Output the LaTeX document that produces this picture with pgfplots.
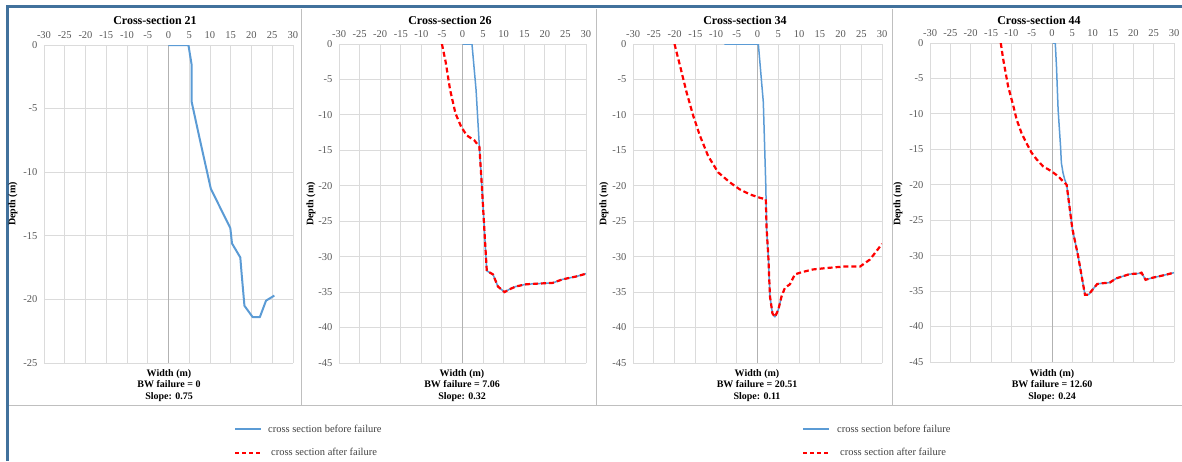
\documentclass[border=0pt]{standalone}
\usepackage{fontspec}
\setmainfont{Liberation Serif}
\usepackage{pgfplots}
\pgfplotsset{compat=1.18}
\definecolor{bluel}{RGB}{91,155,213}
\definecolor{framec}{RGB}{65,113,156}
\definecolor{sepc}{RGB}{191,191,191}
\definecolor{txt}{RGB}{64,64,64}
\pgfplotsset{
  panel/.style={
    scale only axis,
    xmin=-30, xmax=30, xtick distance=5,
    ymax=0, ytick distance=5,
    xticklabel pos=right,
    grid=major, grid style={draw=black!14, line width=0.9pt},
    axis line style={draw=none},
    major tick length=0pt,
    tick label style={font=\fontsize{10.5}{12}\selectfont, text=black!65},
    xticklabel style={yshift=3pt},
    yticklabel style={xshift=-3pt},
    /pgf/number format/assume math mode=true,
    extra x ticks={0}, extra x tick labels={},
    extra x tick style={grid style={draw=black!30, line width=0.9pt}},
  },
  bl/.style={color=bluel, line width=1.5pt, line join=round},
  rd/.style={color=red, line width=2.2pt, dash pattern=on 5pt off 3pt},
}
\begin{document}
\begin{tikzpicture}[x=1pt,y=1pt]
\useasboundingbox (0,0) rectangle (1182,461);
% frame and separators
\draw[sepc, line width=1pt] (8,56) -- (1182,56);
\foreach \xx in {301,596,892} \draw[sepc, line width=1pt] (\xx,452) -- (\xx,56);
\draw[framec, line width=3pt] (7,0) -- (7,454.5) -- (1182,454.5);

% ---------- Panel 1 ----------
\begin{axis}[panel, width=249pt, height=318pt, at={(44pt,98pt)}, anchor=south west, ymin=-25]
\addplot[bl, line width=2pt] coordinates {(0,0) (4.8,0) (5.6,-1.6) (5.6,-4.5) (7.6,-7.5) (10.2,-11.3) (14.9,-14.4) (15.3,-15.6) (17.3,-16.7) (17.6,-17.9) (18.3,-20.5) (20.3,-21.4) (22,-21.4) (23.5,-20.1) (25.5,-19.7)};
\end{axis}
\node[font=\fontsize{12}{14}\bfseries\selectfont] at (155,441) {Cross-section 21};
\node[rotate=90, font=\fontsize{10}{12}\bfseries\selectfont] at (13,257) {Depth (m)};
\node[align=center, font=\fontsize{10}{11.3}\bfseries\selectfont, anchor=north] at (169,95) {Width (m)\\BW failure = 0\\Slope: 0.75};

% ---------- Panel 2 ----------
\begin{axis}[panel, width=247pt, height=319pt, at={(339pt,98pt)}, anchor=south west, ymin=-45]
\addplot[bl] coordinates {(0,0) (2.3,0) (3.3,-6.5) (4.1,-14.5) (4.7,-20) (5.3,-26.1) (5.9,-32.0) (7.4,-32.5) (8.6,-34.2) (10.2,-35) (11.4,-34.6) (13,-34.2) (15.4,-33.9) (18.3,-33.8) (21.9,-33.7) (24.3,-33.2) (27.6,-32.8) (30,-32.4)};
\addplot[rd] coordinates {(-5,0) (-4.1,-2.5) (-3,-6.5) (-1.7,-9.8) (-0.3,-11.7) (1.05,-12.9) (2.9,-13.6) (4.1,-14.5) (4.7,-20) (5.3,-26.1) (5.9,-32.0) (7.4,-32.5) (8.6,-34.2) (10.2,-35) (11.4,-34.6) (13,-34.2) (15.4,-33.9) (18.3,-33.8) (21.9,-33.7) (24.3,-33.2) (27.6,-32.8) (30,-32.4)};
\end{axis}
\node[font=\fontsize{12}{14}\bfseries\selectfont] at (450,441) {Cross-section 26};
\node[rotate=90, font=\fontsize{10}{12}\bfseries\selectfont] at (311,257) {Depth (m)};
\node[align=center, font=\fontsize{10}{11.3}\bfseries\selectfont, anchor=north] at (462,95) {Width (m)\\BW failure = 7.06\\Slope: 0.32};

% ---------- Panel 3 ----------
\begin{axis}[panel, width=249pt, height=319pt, at={(633pt,98pt)}, anchor=south west, ymin=-45]
\addplot[bl] coordinates {(-8,0) (0.2,0) (1.4,-8.2) (2,-20) (2.2,-26.1) (2.6,-29.9) (3,-35.6) (3.6,-38) (4.2,-38.5) (5,-37.5) (5.8,-35.6)};
\addplot[rd] coordinates {(-20,0) (-18.7,-3) (-17.1,-6.8) (-15.5,-10.1) (-13.9,-12.9) (-11.9,-15.8) (-9.5,-18.1) (-6.7,-19.5) (-4.3,-20.5) (-1.9,-21.2) (0.6,-21.7) (2,-21.9) (2.2,-26.1) (2.6,-29.9) (3,-35.6) (3.6,-38) (4.2,-38.5) (5,-37.5) (5.8,-35.6) (6.6,-34.4) (7.8,-33.9) (9,-32.5) (10.6,-32.2) (13.4,-31.8) (16.7,-31.6) (20.7,-31.4) (24.7,-31.4) (27.1,-30.4) (30,-28.2)};
\end{axis}
\node[font=\fontsize{12}{14}\bfseries\selectfont] at (745,441) {Cross-section 34};
\node[rotate=90, font=\fontsize{10}{12}\bfseries\selectfont] at (604,257) {Depth (m)};
\node[align=center, font=\fontsize{10}{11.3}\bfseries\selectfont, anchor=north] at (757,95) {Width (m)\\BW failure = 20.51\\Slope: 0.11};

% ---------- Panel 4 ----------
\begin{axis}[panel, width=244pt, height=319pt, at={(930pt,99pt)}, anchor=south west, ymin=-45]
\addplot[bl] coordinates {(0.3,0) (0.8,0) (1.1,-3.3) (1.5,-9.4) (2.1,-14.6) (2.3,-16.9) (2.7,-18.3) (3.1,-19.2) (3.6,-20) (5,-26.2) (6.4,-30) (8.1,-35.5) (9,-35.5) (10.1,-34.7) (11.1,-34) (12.2,-33.9) (14.2,-33.8) (15.8,-33.2) (19.1,-32.6) (21.5,-32.5) (22,-32.4) (23,-33.4) (24.8,-33.1) (27.2,-32.8) (30,-32.4)};
\addplot[rd] coordinates {(-12.6,0) (-12,-2.3) (-10.8,-6.1) (-9.5,-8.9) (-8.7,-10.8) (-7.5,-12.7) (-6.3,-14.1) (-5,-15.5) (-3.8,-16.4) (-2.2,-17.4) (-0.1,-18.1) (1.5,-18.8) (2.7,-19.5) (3.6,-20) (5,-26.2) (6.4,-30) (8.1,-35.5) (9,-35.5) (10.1,-34.7) (11.1,-34) (12.2,-33.9) (14.2,-33.8) (15.8,-33.2) (19.1,-32.6) (21.5,-32.5) (22,-32.4) (23,-33.4) (24.8,-33.1) (27.2,-32.8) (30,-32.4)};
\end{axis}
\node[font=\fontsize{12}{14}\bfseries\selectfont] at (1039,441) {Cross-section 44};
\node[rotate=90, font=\fontsize{10}{12}\bfseries\selectfont] at (898,257) {Depth (m)};
\node[align=center, font=\fontsize{10}{11.3}\bfseries\selectfont, anchor=north] at (1052,95) {Width (m)\\BW failure = 12.60\\Slope: 0.24};

% ---------- Legends ----------
\foreach \lx/\tx in {235/268, 803/837} {
  \draw[bluel, line width=2pt] (\lx,32) -- (\lx+26,32);
  \node[anchor=west, inner sep=0pt, text=txt, font=\fontsize{10.5}{12}\selectfont] at (\tx,32) {cross section before failure};
  \draw[red, line width=2pt, dash pattern=on 4pt off 3pt] (\lx,8.5) -- (\lx+26,8.5);
  \node[anchor=west, inner sep=0pt, text=txt, font=\fontsize{10.5}{12}\selectfont] at (\tx+3,9) {cross section after failure};
}
\end{tikzpicture}
\end{document}
